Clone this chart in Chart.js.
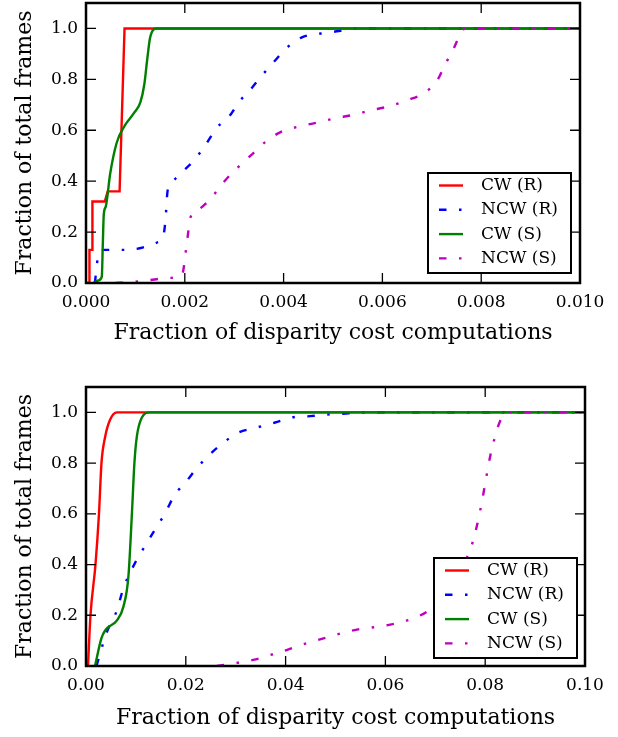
<!DOCTYPE html>
<html>
<head>
<meta charset="utf-8">
<script src="https://cdn.jsdelivr.net/npm/chart.js@4.4.1/dist/chart.umd.min.js"></script>
<style>
html, body { margin: 0; padding: 0; background: #fff; }
#wrap { position: relative; width: 618px; height: 737px; }
canvas { position: absolute; left: 0; }
</style>
</head>
<body>
<div id="wrap">
  <canvas id="topChart" width="618" height="360" style="top:0"></canvas>
  <canvas id="bottomChart" width="618" height="377" style="top:360px"></canvas>
</div>
<script>
// tick labels
const topXTicks = [0, 0.002, 0.004, 0.006, 0.008, 0.010];
const bottomXTicks = [0, 0.02, 0.04, 0.06, 0.08, 0.10];
const yTicks = [0, 0.2, 0.4, 0.6, 0.8, 1.0];

const seriesNames = ['CW (R)', 'NCW (R)', 'CW (S)', 'NCW (S)'];

// top panel, [x, y]
const topCwR = [[0, 0], [0.00007, 0], [0.00007, 0.13], [0.00013, 0.13], [0.00013, 0.32], [0.00038, 0.32],
  [0.00044, 0.36], [0.00068, 0.36], [0.00078, 1.0], [0.01, 1.0]];
const topNcwR = [[0.00018, 0], [0.00024, 0.1], [0.0003, 0.13], [0.0005, 0.13], [0.00083, 0.13], [0.00116, 0.14],
  [0.00145, 0.16], [0.00156, 0.18], [0.00161, 0.25], [0.00165, 0.36], [0.00172, 0.39], [0.00194, 0.435],
  [0.00218, 0.48], [0.00241, 0.54], [0.00265, 0.61], [0.00292, 0.66], [0.00309, 0.71], [0.00333, 0.76],
  [0.00356, 0.815], [0.00381, 0.87], [0.00407, 0.925], [0.00437, 0.965], [0.00475, 0.98], [0.00512, 0.99],
  [0.0054, 1.0], [0.01, 1.0]];
const topCwS = [[0.00015, 0], [0.00025, 0.01], [0.00032, 0.025], [0.00034, 0.15], [0.00036, 0.27], [0.0004, 0.3],
  [0.00049, 0.43], [0.00062, 0.55], [0.00079, 0.62], [0.00098, 0.67], [0.0011, 0.71], [0.00118, 0.78],
  [0.00124, 0.88], [0.0013, 0.966], [0.00143, 1.0], [0.01, 1.0]];
const topNcwS = [[0.0006, 0], [0.00089, 0.003], [0.00123, 0.01], [0.0017, 0.02], [0.00194, 0.03], [0.00205, 0.17],
  [0.00211, 0.255], [0.00231, 0.293], [0.00255, 0.338], [0.00279, 0.397], [0.00306, 0.452], [0.00333, 0.5],
  [0.00363, 0.554], [0.00394, 0.593], [0.00427, 0.613], [0.00465, 0.629], [0.00502, 0.646], [0.00542, 0.661],
  [0.00576, 0.678], [0.00613, 0.694], [0.0065, 0.718], [0.00684, 0.746], [0.00711, 0.796], [0.00728, 0.862],
  [0.00744, 0.92], [0.00762, 0.992], [0.0077, 1.0], [0.01, 1.0]];

// bottom panel
const botCwR = [[0.0004, 0], [0.0009, 0.2], [0.0019, 0.4], [0.0026, 0.6], [0.0031, 0.8], [0.0038, 0.9],
  [0.0048, 0.97], [0.0062, 1.0], [0.1, 1.0]];
const botNcwR = [[0.0021, 0], [0.0041, 0.13], [0.0062, 0.22], [0.0075, 0.307], [0.0102, 0.42], [0.0122, 0.485],
  [0.0142, 0.55], [0.0158, 0.6], [0.0178, 0.676], [0.0198, 0.72], [0.0222, 0.78], [0.0248, 0.834],
  [0.0279, 0.886], [0.0305, 0.92], [0.0342, 0.94], [0.0379, 0.96], [0.0412, 0.98], [0.0449, 0.985],
  [0.0489, 0.992], [0.0526, 0.996], [0.056, 1.0], [0.1, 1.0]];
const botCwS = [[0.0018, 0], [0.0031, 0.11], [0.0039, 0.142], [0.0062, 0.18], [0.0075, 0.234], [0.0085, 0.353],
  [0.0092, 0.6], [0.0097, 0.8], [0.0102, 0.906], [0.0112, 0.98], [0.0128, 1.0], [0.1, 1.0]];
const botNcwS = [[0.0262, 0], [0.0295, 0.01], [0.0335, 0.024], [0.0369, 0.043], [0.0402, 0.063], [0.0442, 0.09],
  [0.0476, 0.109], [0.0512, 0.129], [0.0549, 0.146], [0.0586, 0.155], [0.0623, 0.169], [0.0656, 0.188],
  [0.0686, 0.218], [0.0709, 0.26], [0.0729, 0.313], [0.0749, 0.38], [0.077, 0.458], [0.0783, 0.55],
  [0.0793, 0.643], [0.08, 0.72], [0.081, 0.827], [0.082, 0.906], [0.083, 0.966], [0.0846, 1.0], [0.1, 1.0]];

const colors = ['#ff0000', '#0000ff', '#008000', '#bf00bf'];
const dashDot = [7.5, 12.5, 2.5, 12.5];
const dashes = [[], dashDot, [], dashDot];

const serif = 'DejaVu Serif';
Chart.defaults.color = '#000';
Chart.defaults.font.family = serif;

// matplotlib style box: inward ticks on all sides, thick frame, framed legend
const framePlugin = {
  id: 'frame',
  afterDatasetsDraw(chart, args, opts) {
    const { ctx, chartArea: a, scales: { x, y } } = chart;
    ctx.save();
    ctx.strokeStyle = '#000';
    ctx.lineWidth = 1.3;
    ctx.beginPath();
    x.ticks.forEach(t => {
      const px = x.getPixelForValue(t.value);
      ctx.moveTo(px, a.bottom); ctx.lineTo(px, a.bottom - 10);
      ctx.moveTo(px, a.top); ctx.lineTo(px, a.top + 10);
    });
    y.ticks.forEach(t => {
      const py = y.getPixelForValue(t.value);
      ctx.moveTo(a.left, py); ctx.lineTo(a.left + 10, py);
      ctx.moveTo(a.right, py); ctx.lineTo(a.right - 10, py);
    });
    ctx.stroke();
    ctx.lineWidth = 2.5;
    ctx.strokeRect(a.left, a.top, a.right - a.left, a.bottom - a.top);

    // legend
    const w = 143, h = 100;
    const bx = a.right - opts.gapRight - w;
    const by = a.bottom - opts.gapBottom - h;
    ctx.fillStyle = '#fff';
    ctx.fillRect(bx, by, w, h);
    ctx.lineWidth = 2;
    ctx.strokeRect(bx, by, w, h);
    ctx.font = '17px "' + serif + '"';
    ctx.textBaseline = 'middle';
    chart.data.datasets.forEach((ds, i) => {
      const ry = by + 12.5 + i * 24.3;
      ctx.strokeStyle = ds.borderColor;
      ctx.lineWidth = ds.borderWidth;
      ctx.setLineDash(ds.borderDash);
      ctx.beginPath();
      ctx.moveTo(bx + 11, ry);
      ctx.lineTo(bx + 35, ry);
      ctx.stroke();
      ctx.setLineDash([]);
      ctx.fillStyle = '#000';
      ctx.fillText(ds.label, bx + 53, ry);
    });
    ctx.restore();
  }
};

function makeChart(id, series, xTicks, xMax, decimals, pad, xHeight, titlePad, legendGaps) {
  new Chart(document.getElementById(id), {
    type: 'line',
    data: {
      datasets: series.map((s, i) => ({
        label: seriesNames[i],
        data: s.map(p => ({ x: p[0], y: p[1] })),
        borderColor: colors[i],
        borderWidth: 2.4,
        borderDash: dashes[i],
        borderCapStyle: 'butt',
        pointRadius: 0,
        fill: false,
        order: 4 - i,
        tension: i === 0 && id === 'topChart' ? 0 : 0.4,
        cubicInterpolationMode: i === 0 && id === 'topChart' ? 'default' : 'monotone'
      }))
    },
    options: {
      responsive: false,
      animation: false,
      events: [],
      layout: { padding: pad },
      scales: {
        x: {
          type: 'linear',
          min: 0,
          max: xMax,
          grid: { display: false, drawTicks: false },
          border: { display: false },
          afterBuildTicks: sc => { sc.ticks = xTicks.map(v => ({ value: v })); },
          afterFit: sc => { sc.height = xHeight; sc.paddingLeft = 0; sc.paddingRight = 0; },
          ticks: {
            autoSkip: false,
            maxRotation: 0,
            padding: 9,
            font: { size: 17, family: serif },
            callback: v => v.toFixed(decimals)
          },
          title: {
            display: true,
            text: 'Fraction of disparity cost computations',
            font: { size: 22, family: serif, lineHeight: 1 },
            padding: { top: 0, bottom: titlePad }
          }
        },
        y: {
          min: 0,
          max: 1.1,
          grid: { display: false, drawTicks: false },
          border: { display: false },
          afterBuildTicks: sc => { sc.ticks = yTicks.map(v => ({ value: v })); },
          afterFit: sc => { sc.width = 86; sc.paddingTop = 0; sc.paddingBottom = 0; },
          ticks: {
            padding: 8,
            font: { size: 17, family: serif },
            callback: v => v.toFixed(1)
          },
          title: {
            display: true,
            text: 'Fraction of total frames',
            font: { size: 22, family: serif, lineHeight: 1 },
            padding: { top: 14, bottom: 0 }
          }
        }
      },
      plugins: {
        legend: { display: false },
        tooltip: { enabled: false },
        frame: legendGaps
      }
    },
    plugins: [framePlugin]
  });
}

makeChart('topChart', [topCwR, topNcwR, topCwS, topNcwS], topXTicks, 0.01, 3,
  { top: 3, right: 38, bottom: 0, left: 0 }, 77, 16, { gapRight: 9, gapBottom: 10 });
makeChart('bottomChart', [botCwR, botNcwR, botCwS, botNcwS], bottomXTicks, 0.1, 2,
  { top: 27, right: 33, bottom: 0, left: 0 }, 71, 8, { gapRight: 8, gapBottom: 8 });
</script>
</body>
</html>
